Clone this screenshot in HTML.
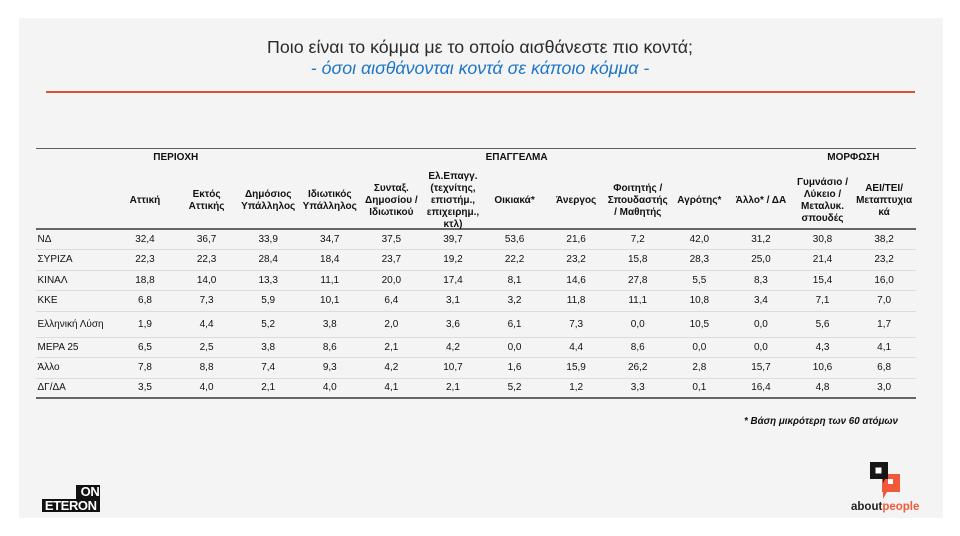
<!DOCTYPE html>
<html>
<head>
<meta charset="utf-8">
<style>
  html, body { margin:0; padding:0; }
  body { width:960px; height:536px; background:#ffffff; position:relative; overflow:hidden;
         font-family:"Liberation Sans", "DejaVu Sans", sans-serif; color:#111; }
  .slide { position:absolute; left:19px; top:18px; width:924px; height:500px; background:#f4f4f4; }
  .title { position:absolute; left:0; width:960px; top:37px; text-align:center; font-size:17.8px;
           line-height:20px; color:#2b2b2b; white-space:nowrap; }
  .sub { position:absolute; left:0; width:960px; top:58px; text-align:center; font-size:17.8px;
         line-height:20px; color:#1d76c6; font-style:italic; white-space:nowrap; }
  .redline { position:absolute; left:46px; width:869px; top:91px; height:1.6px; background:#dd5038; }
  .hline { position:absolute; left:36px; width:880px; }
  .grp { position:absolute; top:150px; height:16px; line-height:16px; font-size:10px; font-weight:bold;
         text-align:center; white-space:nowrap; }
  .hrow { position:absolute; left:36px; top:171px; height:60px; width:880px; display:flex; }
  .hrow .l { width:78.2px; flex:none; }
  .hrow .c { width:61.6px; flex:none; display:flex; align-items:center; justify-content:center;
             text-align:center; font-size:10px; font-weight:bold; line-height:12px; white-space:nowrap; }
  .row { position:absolute; left:36px; width:880px; height:20px; line-height:20px; display:flex; font-size:10px; }
  .row .l { width:78.2px; flex:none; padding-left:1.5px; box-sizing:border-box; white-space:nowrap; }
  .row .c { width:61.6px; flex:none; text-align:center; }
  .sep { position:absolute; left:36px; width:880px; height:1px; background:#dcdcdc; }
  .foot { position:absolute; right:62px; top:415px; font-size:9.8px; font-weight:bold; font-style:italic;
          line-height:14px; white-space:nowrap; color:#111; }
  .on { position:absolute; left:76px; top:485px; width:23.5px; height:13.5px; background:#111; color:#fff;
        font-weight:bold; font-size:13px; line-height:14px; text-align:right; letter-spacing:-0.3px; }
  .eteron { position:absolute; left:42px; top:498.5px; width:57.5px; height:13.5px; background:#111; color:#fff;
        font-weight:bold; font-size:13px; line-height:14px; text-align:center; letter-spacing:-0.4px; }
  .ap { position:absolute; left:851px; top:500px; font-size:11.5px; font-weight:bold; line-height:14px;
        white-space:nowrap; color:#222; }
  .ap span { color:#f05a3a; }
</style>
</head>
<body>
<div class="slide"></div>

<div class="title">Ποιο είναι το κόμμα με το οποίο αισθάνεστε πιο κοντά;</div>
<div class="sub">- όσοι αισθάνονται κοντά σε κάποιο κόμμα -</div>
<div class="redline"></div>

<!-- table lines -->
<div class="hline" style="top:147.5px;height:1.4px;background:#5e5e5e;"></div>
<div class="hline" style="top:228px;height:2.2px;background:#666;"></div>
<div class="hline" style="top:397px;height:2px;background:#666;"></div>

<!-- group headers -->
<div class="grp" style="left:114.2px;width:123.2px;">ΠΕΡΙΟΧΗ</div>
<div class="grp" style="left:237.4px;width:554.4px;padding-left:4px;box-sizing:border-box;">ΕΠΑΓΓΕΛΜΑ</div>
<div class="grp" style="left:791.8px;width:123.2px;">ΜΟΡΦΩΣΗ</div>

<!-- column headers -->
<div class="hrow">
  <div class="l"></div>
  <div class="c">Αττική</div>
  <div class="c">Εκτός<br>Αττικής</div>
  <div class="c">Δημόσιος<br>Υπάλληλος</div>
  <div class="c">Ιδιωτικός<br>Υπάλληλος</div>
  <div class="c">Συνταξ.<br>Δημοσίου /<br>Ιδιωτικού</div>
  <div class="c">Ελ.Επαγγ.<br>(τεχνίτης,<br>επιστήμ.,<br>επιχειρημ.,<br>κτλ)</div>
  <div class="c">Οικιακά*</div>
  <div class="c">Άνεργος</div>
  <div class="c">Φοιτητής /<br>Σπουδαστής<br>/ Μαθητής</div>
  <div class="c">Αγρότης*</div>
  <div class="c">Άλλο* / ΔΑ</div>
  <div class="c">Γυμνάσιο /<br>Λύκειο /<br>Μεταλυκ.<br>σπουδές</div>
  <div class="c">ΑΕΙ/ΤΕΙ/<br>Μεταπτυχια<br>κά</div>
</div>

<!-- separators -->
<div class="sep" style="top:249px;"></div>
<div class="sep" style="top:269.5px;"></div>
<div class="sep" style="top:290px;"></div>
<div class="sep" style="top:310.5px;"></div>
<div class="sep" style="top:336.5px;"></div>
<div class="sep" style="top:357px;"></div>
<div class="sep" style="top:377.5px;"></div>

<!-- rows -->
<div class="row" style="top:229.5px;">
  <div class="l">ΝΔ</div>
  <div class="c">32,4</div><div class="c">36,7</div><div class="c">33,9</div><div class="c">34,7</div><div class="c">37,5</div><div class="c">39,7</div><div class="c">53,6</div><div class="c">21,6</div><div class="c">7,2</div><div class="c">42,0</div><div class="c">31,2</div><div class="c">30,8</div><div class="c">38,2</div>
</div>
<div class="row" style="top:250px;">
  <div class="l">ΣΥΡΙΖΑ</div>
  <div class="c">22,3</div><div class="c">22,3</div><div class="c">28,4</div><div class="c">18,4</div><div class="c">23,7</div><div class="c">19,2</div><div class="c">22,2</div><div class="c">23,2</div><div class="c">15,8</div><div class="c">28,3</div><div class="c">25,0</div><div class="c">21,4</div><div class="c">23,2</div>
</div>
<div class="row" style="top:270.5px;">
  <div class="l">ΚΙΝΑΛ</div>
  <div class="c">18,8</div><div class="c">14,0</div><div class="c">13,3</div><div class="c">11,1</div><div class="c">20,0</div><div class="c">17,4</div><div class="c">8,1</div><div class="c">14,6</div><div class="c">27,8</div><div class="c">5,5</div><div class="c">8,3</div><div class="c">15,4</div><div class="c">16,0</div>
</div>
<div class="row" style="top:291px;">
  <div class="l">ΚΚΕ</div>
  <div class="c">6,8</div><div class="c">7,3</div><div class="c">5,9</div><div class="c">10,1</div><div class="c">6,4</div><div class="c">3,1</div><div class="c">3,2</div><div class="c">11,8</div><div class="c">11,1</div><div class="c">10,8</div><div class="c">3,4</div><div class="c">7,1</div><div class="c">7,0</div>
</div>
<div class="row" style="top:314.5px;">
  <div class="l">Ελληνική Λύση</div>
  <div class="c">1,9</div><div class="c">4,4</div><div class="c">5,2</div><div class="c">3,8</div><div class="c">2,0</div><div class="c">3,6</div><div class="c">6,1</div><div class="c">7,3</div><div class="c">0,0</div><div class="c">10,5</div><div class="c">0,0</div><div class="c">5,6</div><div class="c">1,7</div>
</div>
<div class="row" style="top:337.5px;">
  <div class="l">ΜΕΡΑ 25</div>
  <div class="c">6,5</div><div class="c">2,5</div><div class="c">3,8</div><div class="c">8,6</div><div class="c">2,1</div><div class="c">4,2</div><div class="c">0,0</div><div class="c">4,4</div><div class="c">8,6</div><div class="c">0,0</div><div class="c">0,0</div><div class="c">4,3</div><div class="c">4,1</div>
</div>
<div class="row" style="top:358px;">
  <div class="l">Άλλο</div>
  <div class="c">7,8</div><div class="c">8,8</div><div class="c">7,4</div><div class="c">9,3</div><div class="c">4,2</div><div class="c">10,7</div><div class="c">1,6</div><div class="c">15,9</div><div class="c">26,2</div><div class="c">2,8</div><div class="c">15,7</div><div class="c">10,6</div><div class="c">6,8</div>
</div>
<div class="row" style="top:378px;">
  <div class="l">ΔΓ/ΔΑ</div>
  <div class="c">3,5</div><div class="c">4,0</div><div class="c">2,1</div><div class="c">4,0</div><div class="c">4,1</div><div class="c">2,1</div><div class="c">5,2</div><div class="c">1,2</div><div class="c">3,3</div><div class="c">0,1</div><div class="c">16,4</div><div class="c">4,8</div><div class="c">3,0</div>
</div>

<div class="foot">* Βάση μικρότερη των 60 ατόμων</div>

<!-- ON ETERON logo -->
<div class="on">ON</div>
<div class="eteron">ETERON</div>

<!-- aboutpeople logo -->
<svg style="position:absolute;left:866px;top:458px;" width="40" height="46" viewBox="0 0 40 46">
  <path d="M16 16 H34 V34 H21 L17 41 V34 H16 Z" fill="#f05a3a"/>
  <path d="M4 4 H22 V21 H19 L17 25 V21 H4 Z" fill="#161616"/>
  <rect x="9.5" y="9.5" width="6" height="6" fill="#ffffff"/>
  <rect x="22" y="21" width="5" height="5" fill="#ffffff"/>
</svg>
<div class="ap">about<span>people</span></div>

</body>
</html>
